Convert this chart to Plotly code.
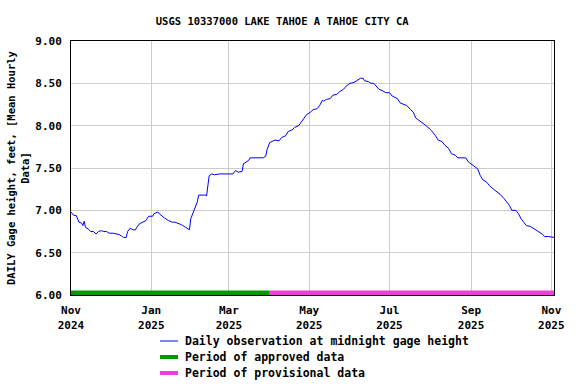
import pandas as pd
import plotly.graph_objects as go

title = "USGS 10337000 LAKE TAHOE A TAHOE CITY CA"
y_title = "DAILY Gage height, feet, [Mean Hourly<br>Data]"

start = pd.Timestamp("2024-11-01")
# days since 2024-11-01 and gage height (ft)
days = [0, 2, 4, 6, 8, 9, 10, 11, 13, 15, 17, 19, 21, 23, 25, 27, 29, 32, 35, 37, 39, 40, 42,
        43, 45, 47, 49, 50, 52, 55, 57, 59, 61, 62, 63, 66, 67, 69, 71, 74, 77, 79, 82, 84, 87,
        89, 90, 91, 93, 94, 96, 97, 99, 102, 103, 104, 105, 107, 109, 113, 118, 123, 125, 127,
        130, 131, 133, 135, 136, 139, 142, 146, 148, 149, 151, 153, 155, 158, 160, 163, 165,
        168, 170, 173, 175, 177, 179, 182, 184, 187, 189, 191, 192, 194, 197, 199, 202, 204,
        207, 210, 212, 215, 217, 220, 222, 223, 226, 228, 230, 232, 234, 237, 239, 242, 244,
        248, 250, 253, 255, 258, 260, 262, 264, 267, 269, 272, 274, 277, 279, 282, 284, 287,
        289, 292, 294, 297, 300, 302, 305, 307, 309, 311, 313, 316, 318, 321, 324, 326, 329,
        331, 333, 335, 338, 340, 342, 344, 346, 349, 351, 354, 356, 358, 360, 363, 367]
heights = [6.98, 6.94, 6.94, 6.86, 6.85, 6.82, 6.87, 6.80, 6.78, 6.75, 6.75, 6.72, 6.75, 6.76,
           6.75, 6.75, 6.73, 6.73, 6.72, 6.71, 6.69, 6.68, 6.68,
           6.75, 6.79, 6.77, 6.77, 6.80, 6.84, 6.87, 6.88, 6.93, 6.93, 6.93, 6.96, 6.98, 6.96,
           6.93, 6.91, 6.88, 6.86, 6.86, 6.84, 6.83, 6.80,
           6.78, 6.77, 6.90, 6.98, 7.02, 7.10, 7.18, 7.18, 7.18, 7.17, 7.31, 7.41, 7.43, 7.42,
           7.43, 7.43, 7.43, 7.47, 7.45,
           7.46, 7.55, 7.57, 7.59, 7.62, 7.62, 7.62, 7.62, 7.64, 7.72, 7.80, 7.82, 7.83, 7.82,
           7.86, 7.88, 7.93,
           7.95, 7.98, 8.00, 8.04, 8.09, 8.13, 8.16, 8.19, 8.20, 8.24, 8.30, 8.29, 8.31, 8.32,
           8.36, 8.37, 8.40,
           8.43, 8.48, 8.50, 8.51, 8.53, 8.56, 8.56, 8.53, 8.52, 8.50, 8.50, 8.46, 8.43, 8.41,
           8.39, 8.39, 8.35,
           8.32, 8.27, 8.25, 8.24, 8.19, 8.16, 8.09, 8.07, 8.04, 8.01, 7.97, 7.94, 7.88, 7.83,
           7.81, 7.77, 7.73,
           7.67, 7.65, 7.62, 7.62, 7.62, 7.57, 7.54, 7.52, 7.49, 7.41, 7.36, 7.33, 7.29, 7.25,
           7.22, 7.19, 7.14,
           7.10, 7.06, 7.00, 7.00, 6.96, 6.90, 6.86, 6.82, 6.81, 6.79, 6.77, 6.75, 6.72, 6.69,
           6.69, 6.68]

approved_period = ["2024-11-01", "2025-04-01"]
provisional_period = ["2025-04-01", "2025-11-03"]
status_level = [6.0, 6.0]

series_names = ["Daily observation at midnight gage height",
                "Period of approved data",
                "Period of provisional data"]
series_colors = ["#0000ff", "#009a00", "#ee3fdc"]
legend_widths = [1, 4, 4]

tick_dates = ["2024-11-01", "2025-01-01", "2025-03-01", "2025-05-01", "2025-07-01",
              "2025-09-01", "2025-11-01"]
tick_text = ["Nov<br>2024", "Jan<br>2025", "Mar<br>2025", "May<br>2025", "Jul<br>2025",
             "Sep<br>2025", "Nov<br>2025"]
y_ticks = [6.0, 6.5, 7.0, 7.5, 8.0, 8.5, 9.0]

dates = [start + pd.Timedelta(days=d) for d in days]

FONT = "DejaVu Sans Mono"
W, H = 576, 384
ML, MR, MT, MB = 71, 22, 41, 89
PW, PH = W - ML - MR, H - MT - MB


def px_x(px):
    return (px - ML) / PW


def px_y(py):
    return (H - MB - py) / PH


fig = go.Figure()
fig.add_trace(go.Scatter(x=dates, y=heights, mode="lines",
                         line=dict(color=series_colors[0], width=1),
                         name=series_names[0]))
fig.add_trace(go.Scatter(x=approved_period, y=status_level, mode="lines",
                         line=dict(color=series_colors[1], width=9),
                         name=series_names[1]))
fig.add_trace(go.Scatter(x=provisional_period, y=status_level, mode="lines",
                         line=dict(color=series_colors[2], width=9),
                         name=series_names[2]))

fig.update_layout(
    width=W, height=H,
    margin=dict(l=ML, r=MR, t=MT, b=MB, autoexpand=False),
    paper_bgcolor="white", plot_bgcolor="white",
    font=dict(family=FONT, size=11, color="black"),
    title=dict(text="<b>" + title + "</b>", x=0.49, xanchor="center", y=0.945, yanchor="middle",
               font=dict(family=FONT, size=10.5, color="black")),
    showlegend=False,
)
fig.update_xaxes(
    type="date", range=[start, pd.Timestamp(provisional_period[1])],
    tickvals=tick_dates,
    ticktext=["<b>" + t.replace("<br>", "</b><br><b>") + "</b>" for t in tick_text],
    showgrid=True, gridcolor="#cccccc", gridwidth=1,
    showline=True, linecolor="black", linewidth=1, mirror=True,
    ticks="", zeroline=False, ticklabelstandoff=5, automargin=False,
    tickfont=dict(family=FONT, size=11, color="black"),
)
fig.update_yaxes(
    range=[6.0, 9.0], tickvals=y_ticks,
    ticktext=["<b>%.2f</b>" % v for v in y_ticks],
    showgrid=True, gridcolor="#cccccc", gridwidth=1,
    showline=True, linecolor="black", linewidth=1, mirror=True,
    ticks="", zeroline=False, ticklabelstandoff=6, automargin=False,
    tickfont=dict(family=FONT, size=11, color="black"),
)
fig.add_annotation(text="<b>" + y_title + "</b>", textangle=-90,
                   xref="paper", yref="paper", x=px_x(18), y=0.5,
                   xanchor="center", yanchor="middle", showarrow=False,
                   font=dict(family=FONT, size=10.5, color="black"))

# legend drawn below the plot
for i, (name, color, lw) in enumerate(zip(series_names, series_colors, legend_widths)):
    row_y = px_y(341 + 16 * i)
    fig.add_shape(type="line", xref="paper", yref="paper",
                  x0=px_x(160), x1=px_x(178), y0=row_y, y1=row_y,
                  line=dict(color=color, width=lw))
    fig.add_annotation(text="<b>" + name + "</b>", xref="paper", yref="paper",
                       x=px_x(183), y=row_y, xanchor="left", yanchor="middle",
                       showarrow=False,
                       font=dict(family=FONT, size=11.5, color="black"))

fig.write_html("out.html", config={"displayModeBar": False},
               post_script="document.body.style.margin='0';")
